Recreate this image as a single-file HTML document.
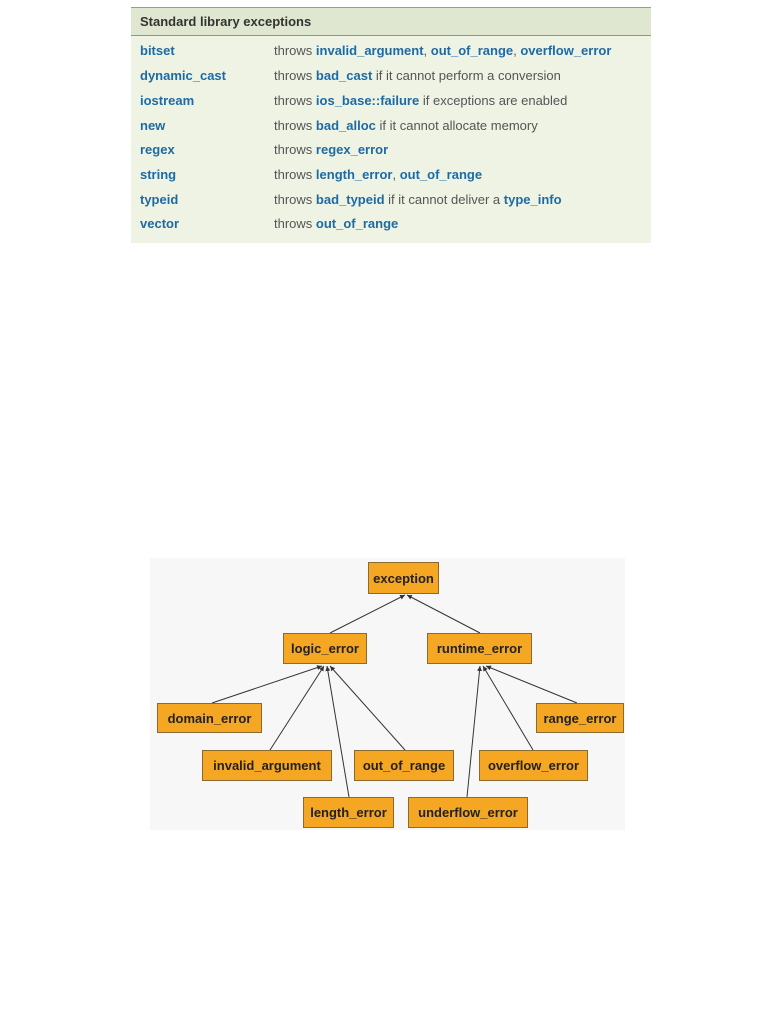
<!DOCTYPE html>
<html><head><meta charset="utf-8"><style>
body{margin:0;width:782px;height:1012px;background:#fff;position:relative;font-family:"Liberation Sans",sans-serif;overflow:hidden}
.tbl{position:absolute;left:131px;top:7px;width:520px;height:235px;background:#eef3e4;border-top:1px solid #999}
.hd{position:absolute;left:0;top:0;width:520px;height:28px;background:#dfe7d0;border-bottom:1px solid #8a9a7a;font-size:13px;font-weight:bold;color:#333;line-height:28px;padding-left:9px;box-sizing:border-box}
.r{position:absolute;font-size:13px;line-height:16px;white-space:nowrap}
.a{left:9px;color:#1d6aa5;font-weight:bold}
.b{left:143px;color:#555}
.b b{color:#1d6aa5}
.box{position:absolute;background:#f5a623;border:1px solid #8a6a30;box-sizing:border-box;font-size:13px;font-weight:bold;color:#222;display:flex;align-items:center;justify-content:center}
</style></head><body>
<div class="tbl">
<div class="hd">Standard library exceptions</div>
<div class="r a" style="top:35px">bitset</div><div class="r b" style="top:35px">throws <b>invalid_argument</b>, <b>out_of_range</b>, <b>overflow_error</b></div>
<div class="r a" style="top:60px">dynamic_cast</div><div class="r b" style="top:60px">throws <b>bad_cast</b> if it cannot perform a conversion</div>
<div class="r a" style="top:85px">iostream</div><div class="r b" style="top:85px">throws <b>ios_base::failure</b> if exceptions are enabled</div>
<div class="r a" style="top:110px">new</div><div class="r b" style="top:110px">throws <b>bad_alloc</b> if it cannot allocate memory</div>
<div class="r a" style="top:134px">regex</div><div class="r b" style="top:134px">throws <b>regex_error</b></div>
<div class="r a" style="top:159px">string</div><div class="r b" style="top:159px">throws <b>length_error</b>, <b>out_of_range</b></div>
<div class="r a" style="top:184px">typeid</div><div class="r b" style="top:184px">throws <b>bad_typeid</b> if it cannot deliver a <b>type_info</b></div>
<div class="r a" style="top:208px">vector</div><div class="r b" style="top:208px">throws <b>out_of_range</b></div>
</div>
<div style="position:absolute;left:150px;top:558px;width:475px;height:272px;background:#f7f7f7"></div>
<svg style="position:absolute;left:0;top:0" width="782" height="1012">
<defs><marker id="m" markerWidth="6" markerHeight="6" refX="5" refY="3" orient="auto"><path d="M0,0.5L5,3L0,5.5z" fill="#333"/></marker></defs>
<g stroke="#333" stroke-width="1" marker-end="url(#m)">
<line x1="330" y1="633" x2="405" y2="595"/>
<line x1="480" y1="633" x2="407" y2="595"/>
<line x1="212" y1="703" x2="322" y2="666"/>
<line x1="270" y1="750" x2="324" y2="666"/>
<line x1="349" y1="797" x2="327" y2="666"/>
<line x1="405" y1="750" x2="330" y2="666"/>
<line x1="467" y1="797" x2="480" y2="666"/>
<line x1="533" y1="750" x2="483" y2="666"/>
<line x1="577" y1="703" x2="486" y2="666"/>
</g></svg>
<div class="box" style="left:368px;top:562px;width:71px;height:32px">exception</div>
<div class="box" style="left:283px;top:633px;width:84px;height:31px">logic_error</div>
<div class="box" style="left:427px;top:633px;width:105px;height:31px">runtime_error</div>
<div class="box" style="left:157px;top:703px;width:105px;height:30px">domain_error</div>
<div class="box" style="left:536px;top:703px;width:88px;height:30px">range_error</div>
<div class="box" style="left:202px;top:750px;width:130px;height:31px">invalid_argument</div>
<div class="box" style="left:354px;top:750px;width:100px;height:31px">out_of_range</div>
<div class="box" style="left:479px;top:750px;width:109px;height:31px">overflow_error</div>
<div class="box" style="left:303px;top:797px;width:91px;height:31px">length_error</div>
<div class="box" style="left:408px;top:797px;width:120px;height:31px">underflow_error</div>
</body></html>
